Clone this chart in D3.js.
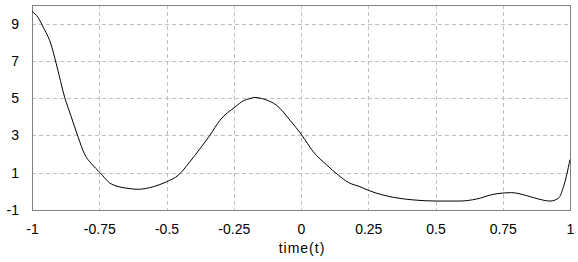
<!DOCTYPE html>
<html><head><meta charset="utf-8">
<script src="https://cdn.jsdelivr.net/npm/d3@7"></script>
<style>body{margin:0;background:#fff}svg{display:block}</style>
</head><body><svg id="c" width="578" height="262"></svg>
<script>
const times = [-1, -0.977, -0.958, -0.931, -0.91, -0.879, -0.854, -0.829, -0.804, -0.78, -0.748, -0.711, -0.68, -0.643, -0.608, -0.549, -0.499, -0.456, -0.413, -0.375, -0.338, -0.301, -0.245, -0.214, -0.19, -0.171, -0.134, -0.091, -0.041, 0.003, 0.046, 0.096, 0.139, 0.176, 0.219, 0.257, 0.343, 0.418, 0.504, 0.591, 0.653, 0.715, 0.783, 0.839, 0.888, 0.926, 0.957, 0.976, 1.0];
const values = [9.65, 9.32, 8.8, 7.96, 6.86, 5.07, 4.0, 2.93, 1.98, 1.5, 1.02, 0.45, 0.26, 0.16, 0.11, 0.25, 0.52, 0.87, 1.59, 2.30, 3.02, 3.82, 4.53, 4.86, 4.98, 5.04, 4.93, 4.62, 3.82, 3.02, 2.12, 1.41, 0.87, 0.48, 0.25, 0.02, -0.32, -0.46, -0.52, -0.52, -0.41, -0.16, -0.07, -0.23, -0.43, -0.52, -0.37, 0.25, 1.7];
const xTicks = [-1, -0.75, -0.5, -0.25, 0, 0.25, 0.5, 0.75, 1];
const yTicks = [-1, 1, 3, 5, 7, 9];
const xLabel = "time(t)";

const L = 32, R = 570, T = 5, B = 210;
const x = d3.scaleLinear().domain([-1, 1]).range([L, R]);
const y = d3.scaleLinear().domain([-1, 10]).range([B, T]);
const svg = d3.select("#c");
const font = "'Liberation Sans', Arial, sans-serif";

// grid
svg.append("g").selectAll("line").data(xTicks.slice(1, -1)).join("line")
  .attr("x1", d => Math.round(x(d)) + 0.5).attr("x2", d => Math.round(x(d)) + 0.5)
  .attr("y1", T).attr("y2", B)
  .attr("stroke", "#c0c0c0").attr("stroke-dasharray", "4,3");
svg.append("g").selectAll("line").data(yTicks.slice(1)).join("line")
  .attr("y1", d => Math.round(y(d)) + 0.5).attr("y2", d => Math.round(y(d)) + 0.5)
  .attr("x1", L).attr("x2", R)
  .attr("stroke", "#c0c0c0").attr("stroke-dasharray", "4,3");

// frame
svg.append("rect").attr("x", L + 0.5).attr("y", T + 0.5).attr("width", R - L).attr("height", B - T)
  .attr("fill", "none").attr("stroke", "#808080");

// axes
const xAxis = d3.axisBottom(x).tickValues(xTicks).tickSize(0).tickPadding(14).tickFormat(d => String(d));
const gx = svg.append("g").attr("transform", `translate(0,${B})`).call(xAxis);
gx.select(".domain").remove();
gx.selectAll("text").attr("font-family", font).attr("font-size", 14).attr("fill", "#000");

const yAxis = d3.axisLeft(y).tickValues(yTicks).tickSize(0).tickPadding(13).tickFormat(d => String(d));
const gy = svg.append("g").attr("transform", `translate(${L},0)`).call(yAxis);
gy.select(".domain").remove();
gy.selectAll("text").attr("font-family", font).attr("font-size", 14).attr("fill", "#000");

svg.append("text").attr("x", (L + R) / 2 + 1).attr("y", 253).attr("text-anchor", "middle")
  .attr("font-family", font).attr("font-size", 14).attr("letter-spacing", 1).text(xLabel);

// line
const data = times.map((t, i) => [t, values[i]]);
svg.append("path").datum(data)
  .attr("d", d3.line().x(d => x(d[0])).y(d => y(d[1])).curve(d3.curveMonotoneX))
  .attr("fill", "none").attr("stroke", "#000").attr("stroke-width", 1);
</script></body></html>
